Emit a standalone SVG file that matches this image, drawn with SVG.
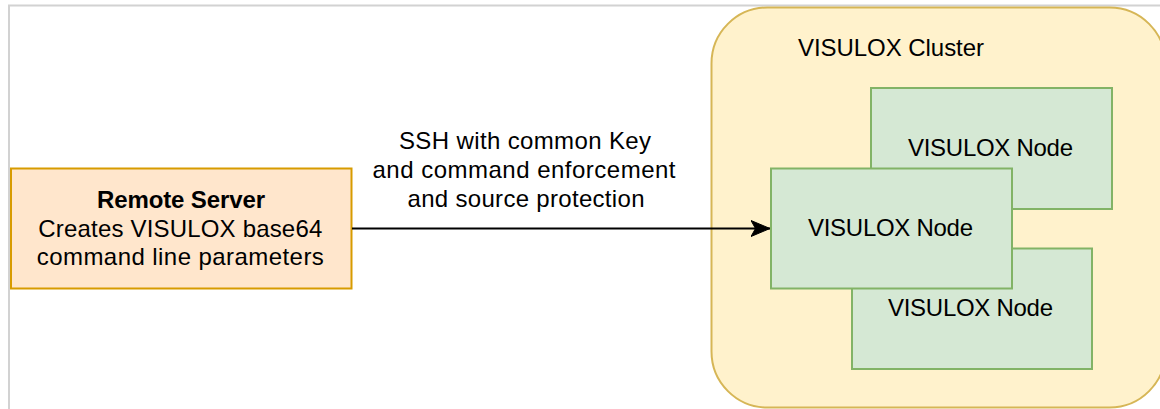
<svg xmlns="http://www.w3.org/2000/svg" width="1160" height="409" viewBox="0 0 1160 409">
  <defs>
    <style>
      .lbl { font-family: "Liberation Sans", Arial, sans-serif; font-size: 24px; fill: #000; text-anchor: middle; }
      .bold { font-weight: bold; }
      .node { fill: #d5e8d4; stroke: #82b366; stroke-width: 2; }
      .frame { stroke: #d2d2d2; stroke-width: 2; fill: none; }
      .edge { stroke: #000; stroke-width: 1.8; fill: none; }
    </style>
    <marker id="arrow" markerUnits="userSpaceOnUse" markerWidth="20" markerHeight="18" refX="19" refY="9" orient="auto" viewBox="0 0 20 18">
      <path d="M0,1 L19,9 L0,17 L4.5,9 Z" fill="#000" stroke="#000" stroke-width="1"/>
    </marker>
  </defs>
  <rect x="0" y="0" width="1160" height="409" fill="#ffffff"/>
  <path class="frame" d="M9,409 V5.5 H1160"/>

  <g id="cluster">
    <rect x="711.5" y="7.5" width="454" height="400" rx="56" ry="56" fill="#fff2cc" stroke="#d6b656" stroke-width="2"/>
    <text class="lbl" x="891" y="56" textLength="186">VISULOX Cluster</text>
  </g>

  <g id="node-a">
    <rect class="node" x="871" y="88" width="241" height="121"/>
    <text class="lbl" x="990.5" y="156" textLength="165">VISULOX Node</text>
  </g>
  <g id="node-c">
    <rect class="node" x="852" y="248.5" width="240" height="120.5"/>
    <text class="lbl" x="970.5" y="316" textLength="165">VISULOX Node</text>
  </g>
  <g id="node-b">
    <rect class="node" x="771" y="168.5" width="241" height="120"/>
    <text class="lbl" x="890.5" y="236" textLength="165">VISULOX Node</text>
  </g>

  <g id="remote-server">
    <rect x="11" y="168.5" width="340.5" height="120" fill="#ffe6cc" stroke="#d79b00" stroke-width="2"/>
    <text class="lbl bold" x="181" y="207.5" textLength="168">Remote Server</text>
    <text class="lbl" x="180.3" y="236.5" textLength="284">Creates VISULOX base64</text>
    <text class="lbl" x="180.3" y="265" textLength="287">command line parameters</text>
  </g>

  <g id="connectors">
    <path class="edge" d="M352,228.5 H770" marker-end="url(#arrow)"/>
    <text class="lbl" x="525" y="149" textLength="252">SSH with common Key</text>
    <text class="lbl" x="524" y="178" textLength="303">and command enforcement</text>
    <text class="lbl" x="526" y="207" textLength="237">and source protection</text>
  </g>
</svg>
